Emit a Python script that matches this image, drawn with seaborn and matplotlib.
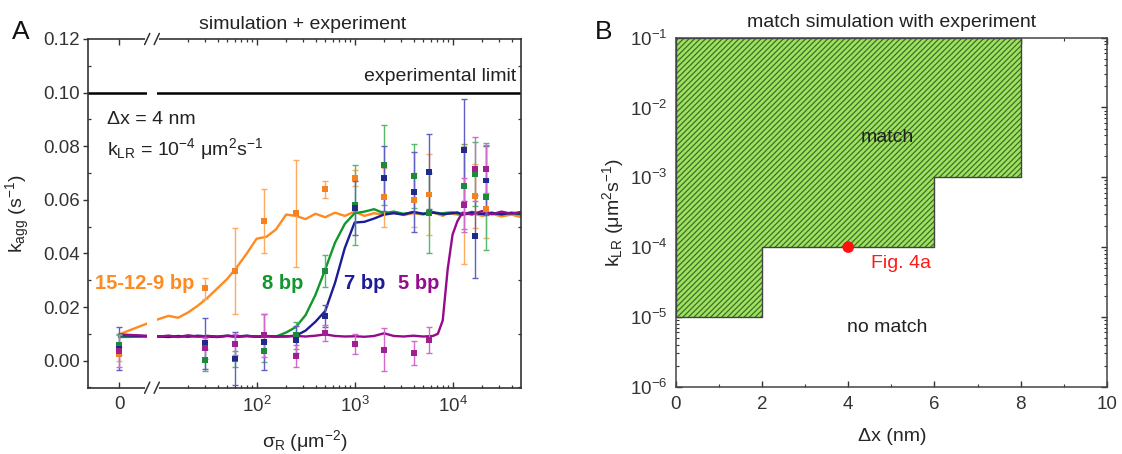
import numpy as np
import pandas as pd
import matplotlib
matplotlib.use("Agg")
import matplotlib.pyplot as plt
import matplotlib.transforms as mtransforms
from matplotlib.ticker import (FixedLocator, MultipleLocator, LogLocator,
                               NullFormatter, FormatStrFormatter)
import seaborn as sns

# ---------------- Panel A data ----------------
series_names = ["15-12-9 bp", "8 bp", "7 bp", "5 bp"]

sim_sigma = [0, 10, 12.6, 15.8, 20, 25.1, 31.6, 39.8, 50.1, 63.1,
             79.4, 100, 126, 158, 200, 251, 316, 398, 501, 631,
             794, 1000, 1260, 1580, 2000, 2510, 3160, 3980, 5010, 6310,
             7080, 7940, 8910, 10000, 11200, 12600, 15800, 20000, 25100, 31600,
             39800, 50000]

sim_orange = [0.0098, 0.0155, 0.0167, 0.0160, 0.0180, 0.0205, 0.0235, 0.0270, 0.0305, 0.0350,
              0.0400, 0.0455, 0.0462, 0.0490, 0.0545, 0.0540, 0.0528, 0.0548, 0.0535, 0.0552,
              0.0540, 0.0556, 0.0540, 0.0550, 0.0545, 0.0552, 0.0543, 0.0550, 0.0545, 0.0552,
              0.0547, 0.0540, 0.0550, 0.0548, 0.0545, 0.0543, 0.0550, 0.0540, 0.0548, 0.0538,
              0.0545, 0.0535]
sim_green = [0.0088, 0.0090, 0.0092, 0.0088, 0.0093, 0.0089, 0.0092, 0.0090, 0.0093, 0.0089,
             0.0091, 0.0090, 0.0092, 0.0090, 0.0105, 0.0125, 0.0170, 0.0245, 0.0340, 0.0440,
             0.0510, 0.0550, 0.0556, 0.0565, 0.0550, 0.0556, 0.0548, 0.0553, 0.0547, 0.0555,
             0.0548, 0.0550, 0.0552, 0.0553, 0.0549, 0.0546, 0.0555, 0.0548, 0.0552, 0.0546,
             0.0550, 0.0545]
sim_blue = [0.0095, 0.0090, 0.0088, 0.0092, 0.0089, 0.0093, 0.0090, 0.0088, 0.0092, 0.0090,
            0.0093, 0.0089, 0.0091, 0.0090, 0.0090, 0.0093, 0.0112, 0.0145, 0.0185, 0.0290,
            0.0420, 0.0515, 0.0518, 0.0530, 0.0545, 0.0550, 0.0545, 0.0555, 0.0548, 0.0552,
            0.0551, 0.0546, 0.0548, 0.0550, 0.0553, 0.0545, 0.0552, 0.0547, 0.0551, 0.0546,
            0.0552, 0.0548]
sim_purple = [0.0098, 0.0090, 0.0093, 0.0089, 0.0094, 0.0090, 0.0092, 0.0089, 0.0093, 0.0090,
              0.0092, 0.0090, 0.0091, 0.0090, 0.0091, 0.0092, 0.0090, 0.0093, 0.0098, 0.0092,
              0.0090, 0.0091, 0.0089, 0.0092, 0.0102, 0.0092, 0.0090, 0.0093, 0.0090, 0.0092,
              0.0100, 0.0150, 0.0340, 0.0470, 0.0520, 0.0552, 0.0545, 0.0558, 0.0546, 0.0556,
              0.0548, 0.0555]

exp_sigma = [0, 30, 60, 120, 250, 500, 1000, 2000, 4000, 5700, 13000, 17000, 22000]
exp_orange = [0.0025, 0.0270, 0.0335, 0.0520, 0.0550, 0.0640, 0.0680, 0.0610, 0.0600, 0.0620, 0.0580, 0.0615, 0.0566]
err_orange = [0.0025, 0.0040, 0.0160, 0.0120, 0.0200, 0.0032, 0.0030, 0.0110, 0.0100, 0.0150, 0.0220, 0.0120, 0.0110]
exp_green = [0.0060, 0.0003, 0.0005, 0.0035, 0.0095, 0.0335, 0.0580, 0.0730, 0.0690, 0.0550, 0.0650, 0.0696, 0.0612]
err_green = [0.0040, 0.0040, 0.0030, 0.0040, 0.0050, 0.0060, 0.0150, 0.0150, 0.0120, 0.0150, 0.0160, 0.0120, 0.0200]
exp_blue = [0.0045, 0.0065, 0.0008, 0.0070, 0.0078, 0.0167, 0.0570, 0.0680, 0.0630, 0.0705, 0.0785, 0.0464, 0.0672]
err_blue = [0.0080, 0.0095, 0.0100, 0.0105, 0.0050, 0.0040, 0.0100, 0.0120, 0.0150, 0.0140, 0.0190, 0.0155, 0.0130]
exp_purple = [0.0035, 0.0046, 0.0061, 0.0095, 0.0018, 0.0102, 0.0061, 0.0040, 0.0028, 0.0077, 0.0580, 0.0715, 0.0715]
err_purple = [0.0060, 0.0040, 0.0040, 0.0080, 0.0040, 0.0030, 0.0038, 0.0080, 0.0045, 0.0050, 0.0100, 0.0120, 0.0090]

limit_value = 0.10
xticks_A = [0, 100, 1000, 10000]
xticklabels_A = ["0", "10$^2$", "10$^3$", "10$^4$"]

# ---------------- Panel B data ----------------
dx_edges = [0, 2, 6, 8]
klr_lower = [1e-5, 1e-4, 1e-3, 1e-3]
klr_upper = 1e-1
fig4a_dx = [4]
fig4a_klr = [1e-4]

# ---------------- styling ----------------
line_colors = ["#FF8A1F", "#12962E", "#1C1C96", "#960A8C"]
marker_colors = ["#F58220", "#1B8A3A", "#1F2A8A", "#A0208F"]
err_colors = ["#FFAA5C", "#55B86C", "#6060C4", "#D468CC"]

sns.set_theme(style="ticks")
plt.rcParams["font.family"] = ["Liberation Sans", "DejaVu Sans"]
plt.rcParams["mathtext.default"] = "regular"
plt.rcParams["hatch.linewidth"] = 0.9
plt.rcParams["axes.edgecolor"] = "#333333"
plt.rcParams["xtick.color"] = "#333333"
plt.rcParams["ytick.color"] = "#333333"

FS = 14
TFS = 13.5

fig = plt.figure(figsize=(11.22, 4.54), dpi=100)
axA = fig.add_axes([0.07816, 0.14604, 0.3862, 0.76806])
axB = fig.add_axes([0.60223, 0.14824, 0.3844, 0.76872])

# ---------------- Panel A ----------------
sim_rows = []
for name, vals in zip(series_names, [sim_orange, sim_green, sim_blue, sim_purple]):
    for s, v in zip(sim_sigma, vals):
        sim_rows.append({"sigma": s, "k": v, "series": name})
sim_df = pd.DataFrame(sim_rows)

exp_rows = []
for name, vals in zip(series_names, [exp_orange, exp_green, exp_blue, exp_purple]):
    for s, v in zip(exp_sigma, vals):
        exp_rows.append({"sigma": s, "k": v, "series": name})
exp_df = pd.DataFrame(exp_rows)

sns.lineplot(data=sim_df, x="sigma", y="k", hue="series", hue_order=series_names,
             palette=line_colors, estimator=None, linewidth=1.7, legend=False,
             ax=axA, zorder=2)

for vals, errs, ec in zip([exp_orange, exp_green, exp_blue, exp_purple],
                          [err_orange, err_green, err_blue, err_purple], err_colors):
    axA.errorbar(exp_sigma, vals, yerr=errs, fmt="none", ecolor=ec,
                 elinewidth=1.0, capsize=2.5, capthick=1.0, zorder=3)

sns.scatterplot(data=exp_df, x="sigma", y="k", hue="series", hue_order=series_names,
                palette=marker_colors, marker="s", s=18, edgecolor="none",
                legend=False, ax=axA, zorder=4)

axA.axhline(limit_value, color="black", linewidth=1.8, zorder=2)

axA.set_xscale("symlog", linthresh=10, linscale=0.3645)
axA.set_xlim(-7.9, 5e4)
axA.set_ylim(-0.0101, 0.12)

axA.xaxis.set_major_locator(FixedLocator(xticks_A))
axA.set_xticklabels(xticklabels_A)
minorA = [m * 10 ** e for e in (1, 2, 3, 4) for m in range(2, 10) if m * 10 ** e < 5e4]
axA.xaxis.set_minor_locator(FixedLocator(minorA))
axA.xaxis.set_minor_formatter(NullFormatter())
axA.yaxis.set_major_locator(MultipleLocator(0.02))
axA.yaxis.set_minor_locator(MultipleLocator(0.01))
axA.yaxis.set_major_formatter(FormatStrFormatter("%.2f"))

axA.tick_params(axis="x", which="both", direction="in", top=True, bottom=True,
                labelsize=TFS, pad=6)
axA.tick_params(axis="x", which="major", length=4, width=1)
axA.tick_params(axis="x", which="minor", length=2.5, width=0.9)
axA.tick_params(axis="y", which="major", direction="out", left=True, right=False,
                length=3.6, width=1, labelsize=TFS, pad=2)
axA.tick_params(axis="y", which="minor", direction="in", left=True, right=True,
                length=2.5, width=0.9)
for sp in axA.spines.values():
    sp.set_linewidth(1.2)
    sp.set_visible(True)

# axis break
trans = mtransforms.blended_transform_factory(axA.transData, axA.transAxes)
axA.axvspan(7.1, 9.5, color="white", zorder=2.3, linewidth=0)
for yy in (0, 1):
    axA.plot([7.1, 9.5], [yy, yy], color="white", linewidth=3, transform=trans,
             clip_on=False, zorder=5)
    for xc in (7.1, 9.5):
        axA.plot([xc - 0.65, xc + 0.65], [yy - 0.016, yy + 0.016], color="#333333",
                 linewidth=1.1, transform=trans, clip_on=False, zorder=6)

axA.set_xlabel("σ$_R$ (μm$^{-2}$)", fontsize=FS)
axA.set_ylabel("k$_{agg}$ (s$^{-1}$)", fontsize=FS)
axA.xaxis.set_label_coords(0.50, -0.115)
axA.yaxis.set_label_coords(-0.128, 0.5)

axA.text(0.495, 1.03, "simulation + experiment", transform=axA.transAxes,
         ha="center", va="baseline", fontsize=FS, color="#222222")
axA.text(0.988, 0.892, "experimental limit", transform=axA.transAxes,
         ha="right", va="center", fontsize=FS, color="#222222")
axA.text(0.045, 0.768, "Δx = 4 nm", transform=axA.transAxes,
         ha="left", va="center", fontsize=FS, color="#222222")
axA.text(0.045, 0.685, "k$_{LR}$ = 10$^{-4}$ μm$^2$s$^{-1}$", transform=axA.transAxes,
         ha="left", va="center", fontsize=FS, color="#222222")
label_x = [0.016, 0.403, 0.591, 0.716]
for name, xx, c in zip(series_names, label_x, line_colors):
    axA.text(xx, 0.300, name, transform=axA.transAxes, ha="left", va="center",
             fontsize=14.5, fontweight="bold", color=c)

# ---------------- Panel B ----------------
axB.fill_between(dx_edges, klr_lower, klr_upper, step="post", facecolor="#9EE25E",
                 edgecolor="#3E6E2C", hatch="//////", linewidth=0, zorder=1)
axB.fill_between(dx_edges, klr_lower, klr_upper, step="post", facecolor="none",
                 edgecolor="#444444", linewidth=1.0, zorder=2)
sns.scatterplot(x=fig4a_dx, y=fig4a_klr, color="#FF1010", s=70, edgecolor="none",
                ax=axB, zorder=5, clip_on=False)

axB.set_yscale("log")
axB.set_xlim(0, 10)
axB.set_ylim(1e-6, 1e-1)
axB.xaxis.set_major_locator(MultipleLocator(2))
axB.xaxis.set_minor_locator(MultipleLocator(1))
axB.yaxis.set_major_locator(LogLocator(base=10, numticks=10))
axB.yaxis.set_minor_locator(LogLocator(base=10, subs=np.arange(2, 10), numticks=50))
axB.yaxis.set_minor_formatter(NullFormatter())
axB.tick_params(axis="both", which="both", direction="in", top=True, right=True,
                labelsize=TFS)
axB.tick_params(axis="both", which="major", length=4, width=1)
axB.tick_params(axis="both", which="minor", length=2.2, width=0.8)
axB.tick_params(axis="x", which="major", pad=7)
axB.tick_params(axis="y", which="major", pad=6)
for sp in axB.spines.values():
    sp.set_linewidth(1.1)
    sp.set_color("#444444")
    sp.set_visible(True)

axB.set_xlabel("Δx (nm)", fontsize=FS)
axB.set_ylabel("k$_{LR}$ (μm$^2$s$^{-1}$)", fontsize=FS)
axB.xaxis.set_label_coords(0.503, -0.118)
axB.yaxis.set_label_coords(-0.115, 0.5)

axB.text(0.5, 1.03, "match simulation with experiment", transform=axB.transAxes,
         ha="center", va="baseline", fontsize=FS, color="#222222")
axB.text(4.9, 3.7e-3, "match", ha="center", va="center", fontsize=FS, color="#222222")
axB.text(4.52, 5.85e-5, "Fig. 4a", ha="left", va="center", fontsize=FS, color="#FF1A1A")
axB.text(4.9, 7.1e-6, "no match", ha="center", va="center", fontsize=FS, color="#222222")

fig.text(0.0107, 0.914, "A", fontsize=19, ha="left", va="baseline", color="#111111")
fig.text(0.530, 0.914, "B", fontsize=19, ha="left", va="baseline", color="#111111")

fig.savefig("out.png", dpi=100)
